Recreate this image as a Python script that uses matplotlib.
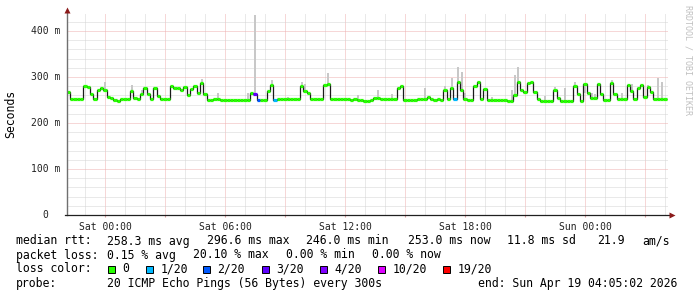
import numpy as np
import matplotlib
matplotlib.use("Agg")
import matplotlib.pyplot as plt
from matplotlib.patches import Rectangle

plt.rcParams['font.family'] = 'DejaVu Sans Mono'

# median rtt (ms), one value per 10 minutes, Fri 22:05 -> Sun 04:05
median_ms = [
    268, 253, 253, 253, 253, 280, 278, 262, 252, 272, 276, 272, 257, 255, 249, 247, 253, 253,
    253, 270, 254, 253, 262, 275, 262, 253, 275, 258, 253, 253, 253, 281, 277, 276, 272, 278,
    260, 274, 281, 265, 287, 262, 250, 250, 252, 252, 251, 251, 251, 251, 251, 251, 251, 251,
    251, 265, 262, 251, 251, 251, 270, 283, 251, 252, 252, 252, 252, 252, 252, 252, 280, 270,
    265, 252, 252, 252, 252, 282, 285, 253, 252, 252, 252, 252, 252, 251, 252, 250, 249, 248,
    248, 251, 254, 254, 252, 253, 253, 253, 253, 275, 280, 249, 249, 249, 249, 253, 253, 253,
    256, 253, 251, 252, 250, 272, 253, 276, 252, 290, 272, 253, 250, 250, 280, 288, 252, 274,
    249, 249, 249, 249, 249, 251, 247, 247, 260, 288, 272, 268, 286, 289, 268, 252, 248, 248,
    248, 248, 272, 255, 247, 247, 247, 247, 280, 262, 248, 284, 265, 254, 254, 285, 262, 249,
    249, 286, 262, 253, 253, 253, 282, 270, 253, 275, 283, 256, 278, 268, 253, 253, 253, 253,
]
start_hour = -1 - 55 / 60   # 22:05 the day before Sat 00:00
step_hour = 10 / 60

# samples with packet loss (index, lost pings of 20)
loss_at = [56, 57, 62, 116]
loss_cnt = [3, 2, 1, 1]

# smoke (highest ping of the sample, ms)
smoke_at = [11, 19, 22, 40, 45, 54, 56, 61, 66, 70, 71, 78, 87, 93, 97, 107, 113, 115, 117,
            118, 119, 127, 133, 134, 135, 143, 146, 149, 152, 155, 156, 157, 158, 163, 166,
            169, 174, 177, 178]
smoke_top = [290, 282, 272, 296, 266, 265, 435, 293, 256, 290, 284, 308, 261, 272, 262, 275,
             280, 298, 322, 310, 266, 257, 272, 304, 322, 258, 278, 275, 290, 266, 266, 266,
             262, 293, 266, 285, 282, 298, 290]

loss_levels = [0, 1, 2, 3, 4, 10, 19]
loss_names = ["0", "1/20", "2/20", "3/20", "4/20", "10/20", "19/20"]
loss_colors = ["#26ff00", "#00b8ff", "#0059ff", "#5e00ff", "#7e00ff", "#dd00ff", "#ff0000"]

x_major = [0, 3, 6, 9, 12, 15, 18, 21, 24, 27]
x_labels = ["Sat 00:00", "", "Sat 06:00", "", "Sat 12:00", "", "Sat 18:00", "", "Sun 00:00", ""]
y_ticks = [0, 100, 200, 300, 400]
y_labels = ["0", "100 m", "200 m", "300 m", "400 m"]

stats_rtt = ["258.3 ms avg", "296.6 ms max", "246.0 ms min", "253.0 ms now", "11.8 ms sd", "21.9", "am/s"]
stats_loss = ["0.15 % avg", "20.10 % max", "0.00 % min", "0.00 % now"]
probe_txt = "20 ICMP Echo Pings (56 Bytes) every 300s"
end_txt = "end: Sun Apr 19 04:05:02 2026"

fig = plt.figure(figsize=(6.97, 2.97), dpi=100)
ax = fig.add_axes([67 / 697, 82 / 297, 601 / 697, 202 / 297])
ax.set_xlim(-1.9, 28.15)
ax.set_ylim(0, 439)

edges = start_hour + np.arange(len(median_ms) + 1) * step_hour
mids = (edges[:-1] + edges[1:]) / 2

# smoke
sm_x = mids[smoke_at]
sm_base = np.array(median_ms)[smoke_at]
ax.bar(sm_x, np.array(smoke_top) - sm_base, bottom=sm_base, width=step_hour * 0.55,
       color="#c8c8c8", linewidth=0, zorder=2)

# median line, coloured by loss
cols = [loss_colors[0]] * len(median_ms)
for i, n in zip(loss_at, loss_cnt):
    cols[i] = loss_colors[loss_levels.index(n)]
ax.stairs(median_ms, edges, baseline=None, color="#1a1a1a", lw=0.9, zorder=3)
ax.hlines(median_ms, edges[:-1], edges[1:], colors=cols, lw=2.3, zorder=4)

# grid
ax.set_xticks(x_major)
ax.set_xticklabels(x_labels, fontsize=7)
ax.set_xticks(np.arange(-1, 29), minor=True)
ax.set_yticks(y_ticks)
ax.set_yticklabels([])
ax.set_yticks(np.arange(0, 440, 20), minor=True)
ax.grid(True, which="minor", color="#d4d4d4", lw=0.72, ls=(0, (1, 1)), zorder=1)
ax.grid(True, which="major", color="#eeb0b0", lw=0.72, ls=(0, (1, 1)), zorder=1)
ax.tick_params(axis="x", which="major", length=1.5, color="#e0a0a0", pad=3.5, labelcolor="#222222")
ax.tick_params(axis="x", which="minor", length=0)
ax.tick_params(axis="y", which="both", length=0)
for s in ["top", "right"]:
    ax.spines[s].set_visible(False)
ax.spines["left"].set_visible(False)
ax.spines["bottom"].set_visible(False)
ax.set_axisbelow(True)

ytr = ax.get_yaxis_transform()
for v, lab in zip(y_ticks, y_labels):
    xpos = -0.0316 if lab == "0" else -0.0117
    ax.text(xpos, v, lab, transform=ytr, ha="right", va="center", fontsize=7, color="#222222")

# overlay in pixel coordinates for arrows, legend and labels
ov = fig.add_axes([0, 0, 1, 1])
ov.set_xlim(0, 697)
ov.set_ylim(297, 0)
ov.axis("off")
ov.plot([67, 67], [215, 12], color="#707070", lw=1.0)
ov.plot([65, 671], [215, 215], color="#202020", lw=0.9)
ov.plot([67], [10], marker="^", ms=4.2, color="#8b1a1a", mec="none")
ov.plot([671.5], [215], marker=">", ms=4.2, color="#8b1a1a", mec="none")

fs = 8.3
ov.text(11, 114, "Seconds", rotation=90, ha="center", va="center", fontsize=fs)
ov.text(688, 5, "RRDTOOL / TOBI OETIKER", rotation=270, ha="center", va="top",
        fontsize=6, color="#c0c0c0")

row_y = [241, 255, 269, 283]
ov.text(16, row_y[0], "median rtt:", va="center", fontsize=fs)
for xp, t in zip([107, 207, 306, 408, 507, 597, 642], stats_rtt):
    ov.text(xp, row_y[0], t, va="center", fontsize=fs)
ov.text(16, row_y[1], "packet loss:", va="center", fontsize=fs)
for xp, t in zip([107, 193, 286, 372], stats_loss):
    ov.text(xp, row_y[1], t, va="center", fontsize=fs)
ov.text(16, row_y[2], "loss color:", va="center", fontsize=fs)
box_x = [108, 146, 203, 262, 320, 378, 443]
for xp, name, c in zip(box_x, loss_names, loss_colors):
    ov.add_patch(Rectangle((xp, row_y[2] - 3.5), 7, 7, facecolor=c, edgecolor="black", lw=0.7))
    ov.text(xp + 14.5, row_y[2], name, va="center", fontsize=fs)
ov.text(16, row_y[3], "probe:", va="center", fontsize=fs)
ov.text(107, row_y[3], probe_txt, va="center", fontsize=fs)
ov.text(478, row_y[3], end_txt, va="center", fontsize=fs)

fig.savefig("out.png", dpi=100)
